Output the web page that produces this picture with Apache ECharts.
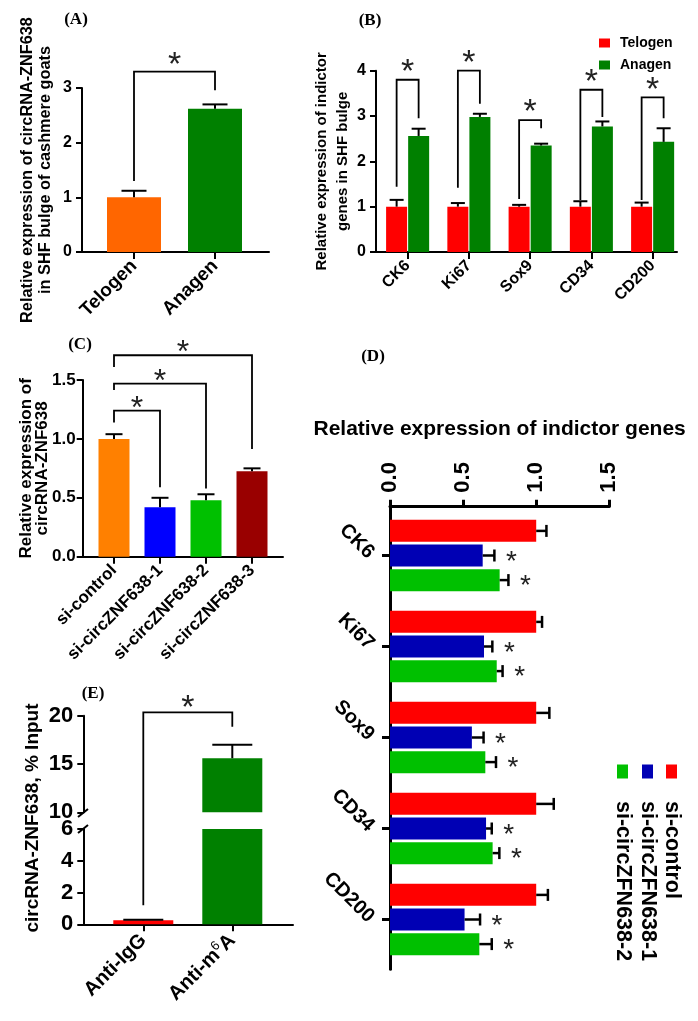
<!DOCTYPE html>
<html><head><meta charset="utf-8">
<script src="https://cdn.jsdelivr.net/npm/echarts@6/dist/echarts.min.js"></script>
<style>html,body{margin:0;padding:0;background:#fff}#c{width:698px;height:1021px}</style>
</head><body><div id="c"></div>
<script>
// ---------------- data ----------------
const catsA = ['Telogen', 'Anagen'];
const valsA = [1.0, 2.62];
const errA = [1.12, 2.70];
const sigA = [[0, 1, 1.3, 3.3, 2.96]];

const catsB = ['CK6', 'Ki67', 'Sox9', 'CD34', 'CD200'];
const telogenB = [1.0, 1.0, 1.0, 1.0, 1.0];
const telogenErrB = [1.15, 1.08, 1.04, 1.12, 1.09];
const anagenB = [2.56, 2.98, 2.35, 2.77, 2.43];
const anagenErrB = [2.72, 3.05, 2.39, 2.88, 2.73];
const sigB = [[1.44, 3.8, 2.95], [1.42, 4.0, 3.27], [1.17, 2.91, 2.73], [1.15, 3.58, 2.98], [1.15, 3.41, 2.95]];

const catsC = ['si-control', 'si-circZNF638-1', 'si-circZNF638-2', 'si-circZNF638-3'];
const valsC = [1.0, 0.42, 0.48, 0.725];
const errC = [1.04, 0.50, 0.53, 0.75];
const sigC = [[0, 1, 1.14, 1.24, 0.59], [0, 2, 1.415, 1.47, 0.58], [0, 3, 1.61, 1.71, 0.915]];

const catsD = ['CK6', 'Ki67', 'Sox9', 'CD34', 'CD200'];
const namesD = ['si-control', 'si-circZFN638-1', 'si-circZFN638-2'];
const ctrlD = [1.0, 1.0, 1.0, 1.0, 1.0];
const ctrlErrD = [1.07, 1.04, 1.09, 1.12, 1.08];
const si1D = [0.634, 0.643, 0.56, 0.657, 0.51];
const si1ErrD = [0.714, 0.70, 0.64, 0.696, 0.616];
const si2D = [0.75, 0.73, 0.652, 0.702, 0.611];
const si2ErrD = [0.81, 0.77, 0.725, 0.748, 0.696];
const titleD = 'Relative expression of indictor genes';

const catsE = ['Anti-IgG', 'Anti-m{sup|6}A'];
const valsE = [0.25, 15.6];
const errE = [0.28, 17.0];
const sigE = [[0, 1, 1.2, 20.35, 18.86]];

// ---------------- styles ----------------
const FONT = '"Liberation Sans", Arial, Helvetica, sans-serif';
const SERIF = '"Liberation Serif", "Times New Roman", serif';
const colA = ['#FF6600', '#008000'];
const colB = ['#FF0000', '#008000'];
const colC = ['#FF8000', '#0000FF', '#00C000', '#990000'];
const colD = ['#FF0000', '#0000B4', '#00C000'];
const colE = ['#FF0000', '#008000'];

const grid = [], xAxis = [], yAxis = [], series = [], graphic = [];
function addGrid(r) { grid.push({ left: r[0], top: r[1], width: r[2], height: r[3] }); return grid.length - 1; }
function lbl(size, extra) { return Object.assign({ color: '#000', fontSize: size, fontWeight: 'bold', fontFamily: FONT }, extra || {}); }

function vPanel(o) {
  const fg = addGrid(o.frame);
  xAxis.push({ gridIndex: fg, type: 'value', min: 0, max: 1, show: !o.noXLine,
    axisLine: { show: true, onZero: false, lineStyle: { color: '#000', width: o.lw } },
    axisTick: { show: false }, axisLabel: { show: false }, splitLine: { show: false } });
  yAxis.push({ gridIndex: fg, type: 'value', min: o.yMin, max: o.yMax, interval: o.yInt,
    axisLine: { show: true, lineStyle: { color: '#000', width: o.lw } },
    axisTick: { show: true, length: 6, lineStyle: { color: '#000', width: o.lw } },
    axisLabel: lbl(o.yFont, { margin: o.yMargin || 10, formatter: o.yFmt }),
    splitLine: { show: false },
    name: o.yName || '', nameLocation: 'middle', nameGap: o.yNameGap || 30, nameMoveOverlap: false,
    nameTextStyle: lbl(o.yNameFont || 16, { lineHeight: o.yNameLH || 19 }) });
  const dg = addGrid([o.data[0], o.frame[1], o.data[1], o.frame[3]]);
  xAxis.push({ gridIndex: dg, type: 'category', data: o.cats,
    axisLine: { show: false },
    axisTick: o.noXTicks ? { show: false } : { show: true, alignWithLabel: true, length: 7, lineStyle: { color: '#000', width: o.lw } },
    axisLabel: o.noXLabels ? { show: false } : lbl(o.xFont, { rotate: o.xRot || 45, margin: o.xMargin || 10, interval: 0, rich: o.rich, lineHeight: o.xLH }),
    splitLine: { show: false } });
  yAxis.push({ gridIndex: dg, type: 'value', min: o.yMin, max: o.yMax, show: false });
  return { dx: xAxis.length - 1, dy: yAxis.length - 1 };
}

function errSeries(ax, vals, errs, off, cap, lw, horiz, range) {
  const data = vals.map((v, i) => horiz ? [v, errs[i], i] : [i, v, errs[i]]);
  return { type: 'custom', xAxisIndex: ax.dx, yAxisIndex: ax.dy, data: data, silent: true, z: 4,
    encode: horiz ? { x: [0, 1], y: 2 } : { x: 0, y: [1, 2] },
    renderItem: function (p, api) {
      const st = { stroke: '#000', lineWidth: lw };
      if (horiz) {
        const i = api.value(2);
        const a = api.coord([api.value(0), i]), b = api.coord([api.value(1), i]);
        const y = a[1] + off;
        return { type: 'group', children: [
          { type: 'line', shape: { x1: a[0], y1: y, x2: b[0], y2: y }, style: st },
          { type: 'line', shape: { x1: b[0], y1: y - cap / 2, x2: b[0], y2: y + cap / 2 }, style: st }] };
      }
      const i = api.value(0), v = api.value(1), e = api.value(2);
      if (range && (v > range[1] || e < range[0] || e > range[1])) return null;
      const a = api.coord([i, v]), b = api.coord([i, e]);
      const x = a[0] + off;
      return { type: 'group', children: [
        { type: 'line', shape: { x1: x, y1: a[1], x2: x, y2: b[1] }, style: st },
        { type: 'line', shape: { x1: x - cap / 2, y1: b[1], x2: x + cap / 2, y2: b[1] }, style: st }] };
    } };
}

function starText(x, y, size) {
  return { type: 'text', x: x, y: y, style: { text: '*', fill: '#222', fontSize: size, fontFamily: FONT,
    align: 'center', verticalAlign: 'middle' } };
}

function bracketSeries(ax, data, o) {
  return { type: 'custom', xAxisIndex: ax.dx, yAxisIndex: ax.dy, data: data, silent: true, z: 5,
    encode: { x: [0, 1], y: [2, 3, 4] },
    renderItem: function (p, api) {
      const x1 = api.coord([api.value(0), 0])[0] + (o.off1 || 0);
      const x2 = api.coord([api.value(1), 0])[0] + (o.off2 || 0);
      const yl = api.coord([0, api.value(2)])[1] + (o.extendLeft || 0);
      const yt = api.coord([0, api.value(3)])[1];
      const yr = api.coord([0, api.value(4)])[1];
      const ch = [{ type: 'polyline', shape: { points: [[x1, yl], [x1, yt], [x2, yt], [x2, yr]] },
        style: { stroke: '#000', lineWidth: o.lw || 1.8, fill: null } }];
      if (o.star) ch.push(starText((x1 + x2) / 2, yt - o.starDy + o.star * 0.23, o.star));
      return { type: 'group', children: ch };
    } };
}

// ---------------- Panel A ----------------
const axA = vPanel({ frame: [82, 88, 187, 164], data: [93.5, 162], yMin: 0, yMax: 3, yInt: 1, yFont: 16,
  yName: 'Relative expression of circRNA-ZNF638\nin SHF bulge of cashmere goats', yNameGap: 27, yNameFont: 16.3, yNameLH: 18,
  cats: catsA, xFont: 19, xMargin: 11, lw: 2 });
series.push({ type: 'bar', name: 'circRNA-ZNF638', xAxisIndex: axA.dx, yAxisIndex: axA.dy, barWidth: 54,
  data: valsA.map((v, i) => ({ value: v, itemStyle: { color: colA[i] } })) });
series.push(errSeries(axA, valsA, errA, 0, 25, 2));
series.push(bracketSeries(axA, sigA, { star: 34, starDy: 14 }));

// ---------------- Panel B ----------------
const axB = vPanel({ frame: [376, 70.7, 301, 181.3], data: [377, 306.25], yMin: 0, yMax: 4, yInt: 1, yFont: 16,
  yName: 'Relative expression of indictor\ngenes in SHF bulge', yNameGap: 23, yNameFont: 15, yNameLH: 21,
  cats: catsB, xFont: 16, xMargin: 11, lw: 2 });
const bwB = 21, gapB = 1, offB = (bwB + gapB) / 2;
series.push({ type: 'bar', name: 'Telogen', xAxisIndex: axB.dx, yAxisIndex: axB.dy, barWidth: bwB, barGap: '5%',
  itemStyle: { color: colB[0] }, data: telogenB });
series.push({ type: 'bar', name: 'Anagen', xAxisIndex: axB.dx, yAxisIndex: axB.dy, barWidth: bwB, barGap: '5%',
  itemStyle: { color: colB[1] }, data: anagenB });
series.push(errSeries(axB, telogenB, telogenErrB, -offB, 14, 2));
series.push(errSeries(axB, anagenB, anagenErrB, offB, 14, 2));
series.push(bracketSeries(axB, sigB.map((s, i) => [i, i, s[0], s[1], s[2]]), { off1: -offB, off2: offB, star: 34, starDy: 15 }));

// ---------------- Panel C ----------------
const axC = vPanel({ frame: [82.7, 380, 200.3, 176.7], data: [91, 184], yMin: 0, yMax: 1.5, yInt: 0.5,
  yFmt: v => v.toFixed(1), yFont: 17, yMargin: 7,
  yName: 'Relative expression of\ncircRNA-ZNF638', yNameGap: 32, yNameFont: 17, yNameLH: 16,
  cats: catsC, xFont: 17, xMargin: 11, lw: 2 });
series.push({ type: 'bar', name: 'circRNA-ZNF638 (C)', xAxisIndex: axC.dx, yAxisIndex: axC.dy, barWidth: 31,
  data: valsC.map((v, i) => ({ value: v, itemStyle: { color: colC[i] } })) });
series.push(errSeries(axC, valsC, errC, 0, 17, 2));
series.push(bracketSeries(axC, sigC, { star: 32, starDy: 9 }));

// ---------------- Panel D (horizontal) ----------------
const fgD = addGrid([390, 506.7, 219.3, 462.6]);
xAxis.push({ gridIndex: fgD, type: 'value', position: 'top', min: 0, max: 1.5, interval: 0.5,
  axisLine: { show: true, onZero: false, lineStyle: { color: '#000', width: 3 } },
  axisTick: { show: true, length: 7, lineStyle: { color: '#000', width: 3 } },
  axisLabel: lbl(22, { rotate: -90, margin: 14, formatter: v => v.toFixed(1) }),
  splitLine: { show: false },
  name: titleD, nameLocation: 'middle', nameGap: 67, nameTextStyle: lbl(21) });
yAxis.push({ gridIndex: fgD, type: 'value', min: 0, max: 1,
  axisLine: { show: true, onZero: false, lineStyle: { color: '#000', width: 3 } },
  axisTick: { show: false }, axisLabel: { show: false }, splitLine: { show: false } });
const dgD = addGrid([390, 510, 219.3, 455]);
xAxis.push({ gridIndex: dgD, type: 'value', position: 'top', min: 0, max: 1.5, show: false });
yAxis.push({ gridIndex: dgD, type: 'category', data: catsD, inverse: true,
  axisLine: { show: false },
  axisTick: { show: true, alignWithLabel: true, length: 8, lineStyle: { color: '#000', width: 3 } },
  axisLabel: lbl(20, { rotate: -45, margin: 19, interval: 0 }), splitLine: { show: false } });
const axD = { dx: xAxis.length - 1, dy: yAxis.length - 1 };
const bwD = 22, gapD = 2.6;
const valsD = [ctrlD, si1D, si2D], errsD = [ctrlErrD, si1ErrD, si2ErrD];
valsD.forEach((vals, k) => {
  series.push({ type: 'bar', name: namesD[k], xAxisIndex: axD.dx, yAxisIndex: axD.dy, barWidth: bwD, barGap: '12%',
    itemStyle: { color: colD[k] }, data: vals });
});
valsD.forEach((vals, k) => {
  const off = (k - 1) * (bwD + gapD);
  series.push(errSeries(axD, vals, errsD[k], off, 12, 2.5, true));
  if (k > 0) {
    series.push({ type: 'custom', xAxisIndex: axD.dx, yAxisIndex: axD.dy, silent: true, z: 5,
      data: errsD[k].map((e, i) => [e, i]), encode: { x: 0, y: 1 },
      renderItem: function (p, api) {
        const c = api.coord([api.value(0), api.value(1)]);
        return starText(c[0] + 17, c[1] + off + 28 * 0.23, 28);
      } });
  }
});
// legend D (vertical text)
namesD.forEach((n, k) => {
  const cx = [671.5, 647.5, 622.5][k];
  graphic.push({ type: 'rect', shape: { x: cx - 5.5, y: 764.5, width: 11, height: 14 }, style: { fill: colD[k] } });
  graphic.push({ type: 'text', x: cx, y: 801, rotation: -Math.PI / 2,
    style: { text: n, fill: '#000', fontSize: 21.5, fontWeight: 'bold', fontFamily: FONT, align: 'left', verticalAlign: 'middle' } });
});

// ---------------- Panel E (broken axis) ----------------
const axEu = vPanel({ frame: [83.3, 715.7, 209.7, 96.6], data: [98.8, 178], yMin: 10, yMax: 20, yInt: 5, yFont: 22,
  noXLine: true, noXTicks: true, noXLabels: true, cats: catsE, lw: 2 });
const axEl = vPanel({ frame: [83.3, 829, 209.7, 95.3], data: [98.8, 178], yMin: 0, yMax: 6, yInt: 2, yFont: 22,
  cats: catsE, xFont: 20, xLH: 24, xMargin: 13, lw: 2,
  rich: { sup: { fontSize: 13, lineHeight: 13, verticalAlign: 'top', fontWeight: 'normal', color: '#000', fontFamily: FONT } } });
[axEu, axEl].forEach((ax, j) => {
  series.push({ type: 'bar', name: 'circRNA-ZNF638 (E)', xAxisIndex: ax.dx, yAxisIndex: ax.dy, barWidth: 60,
    data: valsE.map((v, i) => ({ value: v, itemStyle: { color: colE[i] } })) });
  series.push(errSeries(ax, valsE, errE, 0, 40, 2, false, j === 0 ? [10, 20] : [0, 6]));
});
series.push(bracketSeries(axEu, sigE.map(s => [s[0], s[1], 10, s[3], s[4]]), { star: 34, starDy: 12, extendLeft: 16.7 }));
series.push(bracketSeries(axEl, sigE.map(s => [s[0], s[0], s[2], 6, 6]), {}));
// axis break marks
graphic.push({ type: 'line', shape: { x1: 78, y1: 817, x2: 88, y2: 809 }, style: { stroke: '#000', lineWidth: 2 } });
graphic.push({ type: 'line', shape: { x1: 78, y1: 833, x2: 88, y2: 825 }, style: { stroke: '#000', lineWidth: 2 } });
graphic.push({ type: 'text', x: 33, y: 818, rotation: Math.PI / 2,
  style: { text: 'circRNA-ZNF638, % Input', fill: '#000', fontSize: 19, fontWeight: 'bold', fontFamily: FONT, align: 'center', verticalAlign: 'middle' } });

// ---------------- panel letters ----------------
[['(A)', 76, 20], ['(B)', 370, 21], ['(C)', 80, 345], ['(D)', 373, 357], ['(E)', 93, 694]].forEach(t => {
  graphic.push({ type: 'text', x: t[1], y: t[2], style: { text: t[0], fill: '#000', fontSize: 17, fontWeight: 'bold', fontFamily: SERIF, align: 'center', verticalAlign: 'middle' } });
});

const option = {
  animation: false, backgroundColor: '#fff',
  legend: { data: ['Telogen', 'Anagen'], orient: 'vertical', left: 594, top: 31, itemWidth: 11, itemHeight: 9, itemGap: 8,
    icon: 'rect', textStyle: lbl(14, { padding: [0, 0, 0, 5] }) },
  grid: grid, xAxis: xAxis, yAxis: yAxis, series: series, graphic: graphic
};
const chart = echarts.init(document.getElementById('c'), null, { renderer: 'canvas' });
chart.setOption(option);
</script></body></html>
